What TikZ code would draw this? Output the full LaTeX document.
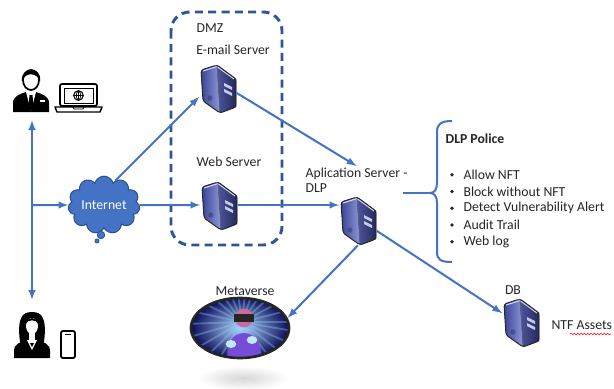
\documentclass[tikz,border=0pt]{standalone}
\usepackage{fontspec}
\setmainfont{Carlito}
\usetikzlibrary{shapes.symbols, shapes.geometric, arrows, decorations.pathmorphing}

\definecolor{linkblue}{HTML}{4472C4}
\definecolor{dmzblue}{HTML}{2F5597}
\definecolor{cloudedge}{HTML}{2F528F}
\definecolor{srvlight}{HTML}{8E98DA}
\definecolor{srvdark}{HTML}{3A4494}
\definecolor{txt}{HTML}{262626}

\tikzset{
  link/.style = {draw=linkblue, line width=1.5pt, -latex},
  srvbox/.style = {minimum width=27.75pt, minimum height=37.5pt, inner sep=0pt},
  personbox/.style = {minimum width=28pt, minimum height=36pt, inner sep=0pt},
  lbl/.style = {font=\fontsize{10.3}{11.5}\selectfont, text=txt, inner sep=1pt},
  server/.pic = {
    % side panel
    \fill[left color=srvdark, right color=srvlight, rounded corners=2pt]
      (-17,-18) -- (-1,-23) -- (2,25) -- (-15,13) -- cycle;
    % front panel
    \fill[left color=srvdark!90, right color=srvdark!60!black]
      (-1,-23) -- (18,-9) -- (18,19) -- (2,25) -- cycle;
    % drive bays
    \fill[srvlight!50!white] (6,-5) -- (14,-1) -- (14,2) -- (6,-2) -- cycle;
    \fill[srvlight!50!white] (6,1) -- (14,5) -- (14,8) -- (6,4) -- cycle;
    \fill[srvdark!60!black, opacity=0.4] (-8,10) circle (2pt);
    \draw[white!60!srvlight, line width=0.8pt] (-15,-17) -- (-1,-21.5) -- (16,-9);
    \draw[black!60, line width=0.4pt] (-1,-23) -- (2,25);
    \draw[black!85, line width=0.7pt, rounded corners=2pt, line join=round]
      (-17,-18) -- (-1,-23) -- (18,-9) -- (18,19) -- (2,25) -- (-15,13) -- cycle;
  }
}

\begin{document}
\begin{tikzpicture}[x=0.75pt, y=-0.75pt]
\useasboundingbox (0,0) rectangle (614,389);
\fill[white] (0,0) rectangle (614,389);

% users
\node[personbox] (man) at (32,88) {};
\fill (13,112) -- (13,103) .. controls (13,96) and (20,94) .. (26,92) -- (36,92)
  .. controls (42,94) and (49,96) .. (49,103) -- (49,112) -- cycle;
\fill[white] (26,92) -- (31,111) -- (36,92) -- cycle;
\fill (29.5,95) -- (32.5,95) -- (33.5,107) -- (31,111) -- (28.5,107) -- cycle;
\draw[white, line width=0.8pt] (40,101) -- (45,101);
\filldraw[fill=white, draw=black, line width=1.3pt] (31,80) ellipse [x radius=6pt, y radius=7.5pt];
\fill (22,81) .. controls (20,67) and (42,65) .. (40,81)
  .. controls (37,73) and (27,72) .. (23,79) -- cycle;
\draw[line width=1.3pt, rounded corners=1.5pt] (60,84) rectangle (97,106);
\draw[line width=0.5pt] (64,88) rectangle (93,103);
\draw[line width=0.8pt] (78.5,95.5) circle (3.6pt);
\draw[line width=0.5pt] (73.7,95.5) -- (83.3,95.5) (78.5,90.7) -- (78.5,100.3)
  (78.5,90.7) .. controls (75.5,93) and (75.5,98) .. (78.5,100.3)
  (78.5,90.7) .. controls (81.5,93) and (81.5,98) .. (78.5,100.3);
\draw[line width=1.1pt, line join=round] (55,107) -- (102,107) -- (100,112) -- (57,112) -- cycle;
\draw[line width=0.6pt] (73,107) -- (74,109) -- (83,109) -- (84,107);

\node[personbox] (woman) at (32,336) {};
\fill (20,342) .. controls (17,318) and (22,312) .. (32,312)
  .. controls (42,312) and (47,318) .. (44,342) -- cycle;
\fill (14,358) -- (14,351) .. controls (14,344) and (20,342) .. (27,340) -- (37,340)
  .. controls (44,342) and (50,344) .. (50,351) -- (50,358) -- cycle;
\fill[white] (29,333) rectangle (35,341);
\fill[white] (27,340) -- (32,350) -- (37,340) -- cycle;
\fill (30,343) -- (34,343) -- (32,347) -- cycle;
\fill[white] (32,326) ellipse [x radius=4.5pt, y radius=6pt];
\fill (25,324) .. controls (27,316) and (37,316) .. (39,324)
  .. controls (35,319) and (29,319) .. (25,324) -- cycle;
\draw[line width=1.4pt, rounded corners=1.5pt] (61,331) rectangle (75,358);
\draw[line width=0.8pt] (65,334.5) -- (71,334.5);

\draw[link, latex-latex, shorten <=6pt, shorten >=9pt] (man.south) -- (woman.north);
\coordinate (hub) at (32,205);

% internet
\node[cloud, cloud puffs=11, aspect=1.4, fill=linkblue, draw=cloudedge, line width=0.8pt,
  minimum width=54pt, minimum height=40pt, inner sep=0pt, text=white,
  font=\fontsize{10.3}{12}\selectfont] (inet) at (104,205) {Internet};
\filldraw[fill=linkblue, draw=cloudedge, line width=0.6pt] (101,235) circle (2.8pt);
\filldraw[fill=linkblue, draw=cloudedge, line width=0.5pt] (97,241) circle (1.6pt);
\draw[link] (hub) -- (inet.west);

% DMZ zone
\draw[dmzblue, line width=2.2pt, dash pattern=on 6pt off 4pt, rounded corners=14pt]
  (171,12) rectangle (282,245);
\node[lbl, anchor=west] (dmz) at (195,28) {DMZ};
\node[lbl] (maillbl) at (233,50) {E-mail Server};
\node[srvbox] (email) at (218,88) {};
\pic at (218,88) {server};
\node[lbl] (weblbl) at (229,162) {Web Server};
\node[srvbox] (web) at (219,205) {};
\pic at (219,205) {server};

% application server
\node[lbl, anchor=north west, align=left] (apptext) at (304,166) {Aplication Server -\\DLP};
\node[srvbox] (app) at (358,220) {};
\pic at (358,220) {server};

% policy list
\coordinate (dlpout) at (403,193);
\coordinate (bracetip) at (430,193);
\draw[linkblue, line width=1.5pt] (dlpout) -- (bracetip);
\draw[linkblue, line width=1.5pt, line join=round]
  (452,121) .. controls (441,121) and (437,124) .. (437,132) -- (437,183)
  .. controls (437,190) and (434,193) .. (bracetip)
  .. controls (434,193) and (437,196) .. (437,203) -- (437,252)
  .. controls (437,260) and (441,262) .. (452,262);
\node[lbl, anchor=west, font=\fontsize{10.3}{12}\selectfont\bfseries] (pol) at (444,139) {DLP Police};
\foreach \entry [count=\i] in {Allow NFT, Block without NFT, Detect Vulnerability Alert, Audit Trail, Web log} {
  \fill[txt] (452,158+16.75*\i) circle (1.4pt);
  \node[lbl, anchor=west] (pol\i) at (462,158+16.75*\i) {\entry};
}

% metaverse
\shade[inner color=black!16, outer color=white] (243,378) ellipse [x radius=34pt, y radius=9pt];
\begin{scope}
  \clip (240,328) ellipse [x radius=36.75pt, y radius=22.5pt];
  \shade[inner color=cyan!40!blue!30, outer color=blue!30!black] (188,295) rectangle (292,361);
  \foreach \a in {0,14,...,350}
    \draw[cyan!50!white, opacity=0.35, line width=1.4pt] (242,322) -- ++(\a:60pt);
  \fill[violet!45!blue!70!white] (227,361) .. controls (227,340) and (233,334) .. (244,333)
    .. controls (255,334) and (261,340) .. (262,361) -- cycle;
  \fill[magenta!40!violet!70!white] (244,318) circle (7pt);
  \fill[black!85] (234,314) rectangle (254,322);
  \fill[cyan!25!white] (231,344) ellipse [x radius=4pt, y radius=3pt];
  \fill[cyan!25!white] (252,340) ellipse [x radius=4pt, y radius=3pt];
\end{scope}
\node[ellipse, draw=black!85, line width=2pt, minimum width=73.5pt, minimum height=45pt,
  inner sep=0pt] (meta) at (240,328) {};
\node[lbl] (metalbl) at (245,291) {Metaverse};

% database
\node[lbl] (dblbl) at (513,290) {DB};
\node[srvbox] (db) at (521,322) {};
\pic at (521,322) {server};
\node[lbl, anchor=west] (ntf) at (550,325) {NTF Assets};
\draw[red, line width=0.4pt, decorate, decoration={snake, amplitude=0.6pt, segment length=2.5pt}]
  (570,334) -- (611,334);

% links
\draw[link] (inet.65) -- (email.205);
\draw[link] (inet.east) -- (web.west);
\draw[link] (email.-15) -- (apptext.north);
\draw[link] (web.east) -- (web.east -| app.west);
\draw[link] (app.south) -- (meta.12);
\draw[link] (app.-30) -- (db.155);
\end{tikzpicture}
\end{document}
